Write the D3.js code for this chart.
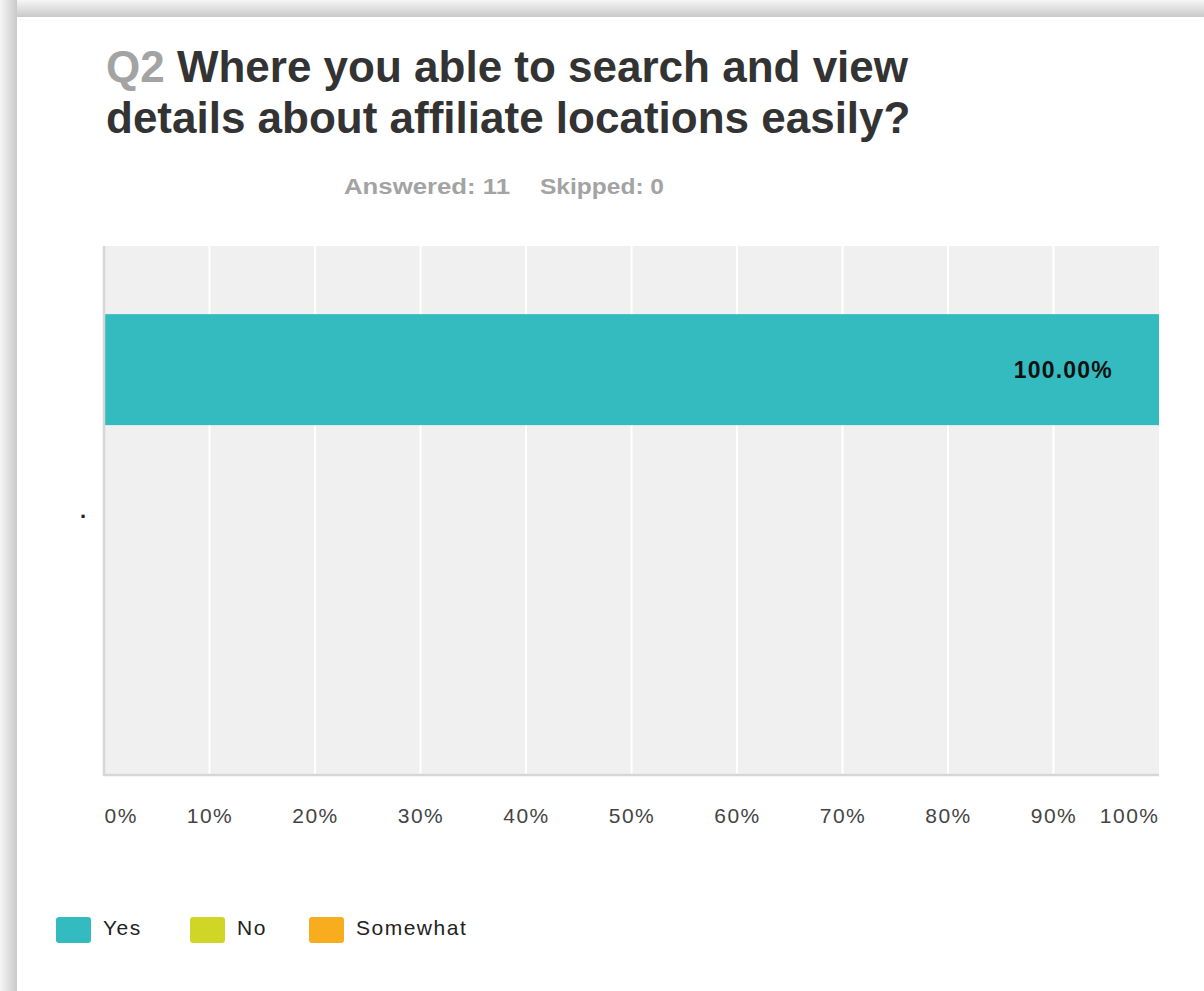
<!DOCTYPE html>
<html>
<head>
<meta charset="utf-8">
<script src="https://cdn.jsdelivr.net/npm/d3@7"></script>
<style>
  html, body { margin: 0; padding: 0; background: #fff; }
  svg { display: block; }
</style>
</head>
<body>
<svg id="chart" width="1204" height="991"></svg>
<script>
// Survey question and response summary
const questionNumber = "Q2";
const questionLines = ["Where you able to search and view", "details about affiliate locations easily?"];
const answered = 11;
const skipped = 0;

// Single stacked bar: one (blank) category, three answer series
const categories = ["."];
const seriesNames = ["Yes", "No", "Somewhat"];
const seriesColors = ["#33bbbf", "#d0d626", "#f7ad1e"];
const seriesValues = [100, 0, 0]; // percent of respondents
const tickValues = [0, 10, 20, 30, 40, 50, 60, 70, 80, 90, 100];

const svg = d3.select("#chart");
const W = 1204, H = 991;
const FONT = "'Liberation Sans', Arial, sans-serif";

// Card frame with soft shadow on top and left
const defs = svg.append("defs");
const gTop = defs.append("linearGradient").attr("id", "shTop").attr("x1", 0).attr("y1", 0).attr("x2", 0).attr("y2", 1);
gTop.append("stop").attr("offset", 0).attr("stop-color", "#f6f6f6");
gTop.append("stop").attr("offset", 1).attr("stop-color", "#c9c9c9");
const gLeft = defs.append("linearGradient").attr("id", "shLeft").attr("x1", 0).attr("y1", 0).attr("x2", 1).attr("y2", 0);
gLeft.append("stop").attr("offset", 0).attr("stop-color", "#f6f6f6");
gLeft.append("stop").attr("offset", 1).attr("stop-color", "#c9c9c9");
svg.append("rect").attr("x", 0).attr("y", 0).attr("width", W).attr("height", 17).attr("fill", "url(#shTop)");
svg.append("rect").attr("x", 0).attr("y", 0).attr("width", 17).attr("height", H).attr("fill", "url(#shLeft)");
svg.append("rect").attr("x", 17).attr("y", 17).attr("width", W - 17).attr("height", H - 17).attr("fill", "#fff");

// Title
const title = svg.append("text")
  .attr("font-family", FONT)
  .attr("font-weight", "bold")
  .attr("font-size", 44)
  .attr("fill", "#333");
const l1 = title.append("tspan").attr("x", 106).attr("y", 82);
l1.append("tspan").attr("fill", "#a3a3a3").text(questionNumber + " ");
l1.append("tspan").text(questionLines[0]);
title.append("tspan").attr("x", 106).attr("y", 133).text(questionLines[1]);

// Answered / skipped line
const sub = svg.append("g")
  .attr("font-family", FONT)
  .attr("font-weight", "bold")
  .attr("font-size", 22)
  .attr("fill", "#a3a3a3");
sub.append("text").attr("x", 344).attr("y", 194)
  .attr("textLength", 166).attr("lengthAdjust", "spacingAndGlyphs")
  .text("Answered: " + answered);
sub.append("text").attr("x", 540).attr("y", 194)
  .attr("textLength", 124).attr("lengthAdjust", "spacingAndGlyphs")
  .text("Skipped: " + skipped);

// Plot area
const plot = { left: 104, right: 1159, top: 246, bottom: 775 };
const x = d3.scaleLinear().domain([0, 100]).range([plot.left, plot.right]);
const y = d3.scaleBand().domain(categories).range([plot.top, plot.bottom])
  .paddingInner(0).paddingOuter(1.883).align(0.163);

svg.append("rect")
  .attr("x", plot.left).attr("y", plot.top)
  .attr("width", plot.right - plot.left).attr("height", plot.bottom - plot.top)
  .attr("fill", "#f0f0f0");

// Vertical gridlines
svg.append("g").selectAll("line").data(tickValues.slice(1, -1)).join("line")
  .attr("x1", d => x(d)).attr("x2", d => x(d))
  .attr("y1", plot.top).attr("y2", plot.bottom)
  .attr("stroke", "#fff").attr("stroke-width", 2);

// Stacked bar segments
const stacked = [];
let acc = 0;
seriesValues.forEach((v, i) => { stacked.push({ name: seriesNames[i], color: seriesColors[i], x0: acc, x1: acc + v, v }); acc += v; });
const cat = categories[0];
svg.append("g").selectAll("rect").data(stacked.filter(d => d.v > 0)).join("rect")
  .attr("x", d => x(d.x0)).attr("width", d => x(d.x1) - x(d.x0))
  .attr("y", y(cat)).attr("height", y.bandwidth())
  .attr("fill", d => d.color);

// Value labels inside segments
svg.append("g").selectAll("text").data(stacked.filter(d => d.v > 0)).join("text")
  .attr("x", d => x(d.x1) - 46)
  .attr("y", y(cat) + y.bandwidth() / 2)
  .attr("dy", "0.36em")
  .attr("text-anchor", "end")
  .attr("font-family", FONT)
  .attr("font-weight", "bold")
  .attr("font-size", 23)
  .attr("letter-spacing", 1.2)
  .attr("fill", "#111")
  .text(d => d.v.toFixed(2) + "%");

// Axis lines (left and bottom)
svg.append("line").attr("x1", plot.left).attr("x2", plot.left).attr("y1", plot.top).attr("y2", plot.bottom + 1)
  .attr("stroke", "#d6d6d6").attr("stroke-width", 2.5);
svg.append("line").attr("x1", plot.left).attr("x2", plot.right).attr("y1", plot.bottom).attr("y2", plot.bottom)
  .attr("stroke", "#d6d6d6").attr("stroke-width", 2.5);

// Category label, centred on the plot
svg.append("text")
  .attr("x", 86).attr("y", (plot.top + plot.bottom) / 2)
  .attr("dy", "0.35em")
  .attr("text-anchor", "end")
  .attr("font-family", FONT)
  .attr("font-weight", "bold")
  .attr("font-size", 22)
  .attr("fill", "#222")
  .text(cat);

// X axis tick labels
const xAxis = d3.axisBottom(x).tickValues(tickValues).tickSize(0).tickPadding(0).tickFormat(d => d + "%");
const ax = svg.append("g").attr("transform", `translate(0, ${plot.bottom + 48})`).call(xAxis);
ax.select(".domain").remove();
ax.selectAll("text")
  .attr("y", 0).attr("dy", "0")
  .attr("font-family", FONT)
  .attr("font-size", 21)
  .attr("letter-spacing", 1.5)
  .attr("fill", "#444")
  .attr("text-anchor", (d, i) => i === 0 ? "start" : (i === tickValues.length - 1 ? "end" : "middle"));

// Legend
const legendX = [56, 190, 309];
const lg = svg.append("g").selectAll("g").data(seriesNames).join("g")
  .attr("transform", (d, i) => `translate(${legendX[i]}, 917)`);
lg.append("rect").attr("width", 35).attr("height", 26).attr("rx", 3)
  .attr("fill", (d, i) => seriesColors[i]);
lg.append("text").attr("x", 47).attr("y", 11).attr("dy", "0.35em")
  .attr("font-family", FONT)
  .attr("font-size", 21)
  .attr("letter-spacing", 1.5)
  .attr("fill", "#222")
  .text(d => d);
</script>
</body>
</html>
